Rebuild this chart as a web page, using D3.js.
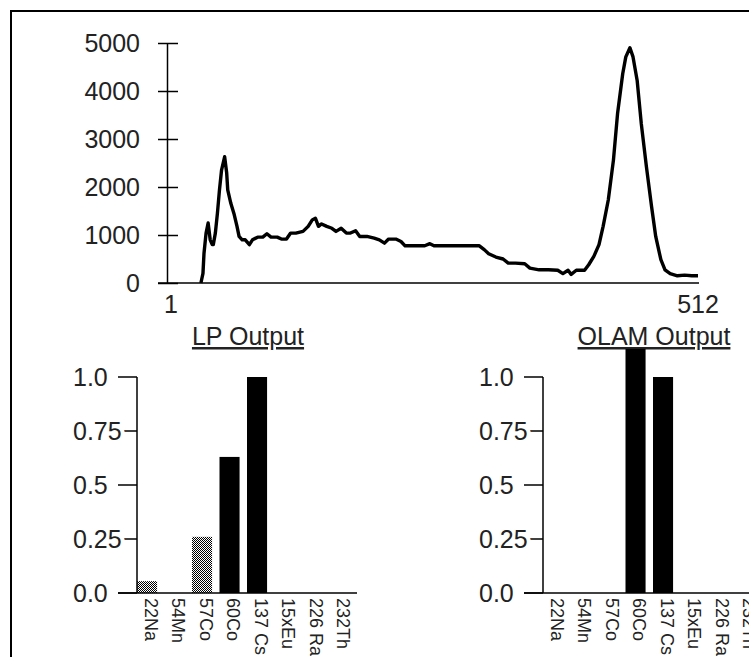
<!DOCTYPE html>
<html>
<head>
<meta charset="utf-8">
<script src="https://cdn.jsdelivr.net/npm/d3@7"></script>
<style>
  body { margin: 0; background: #fff; }
  text { font-family: "Liberation Sans", Arial, sans-serif; fill: #222; }
</style>
</head>
<body>
<script>
// spectrum (channel, counts)
const channels = [30, 32, 33, 35, 37, 39, 41, 42, 44, 46, 48, 50, 53, 55, 56, 59, 62, 65, 67, 70,
  73, 77, 80, 85, 90, 94, 98, 104, 108, 113, 117, 122, 129, 134, 138, 141, 144, 147, 152, 157,
  161, 166, 171, 175, 180, 184, 191, 198, 203, 208, 212, 219, 224, 228, 238, 247, 252, 256, 270, 284,
  300, 305, 309, 316, 323, 328, 335, 344, 349, 358, 367, 376, 381, 386, 389, 394, 402, 406, 411, 416,
  420, 425, 430, 434, 439, 442, 446, 449, 453, 457, 462, 467, 471, 476, 480, 485, 492, 499, 506, 512];
const counts = [0, 200, 620, 1040, 1250, 900, 800, 800, 1040, 1450, 1940, 2350, 2630, 2290, 1940, 1660, 1450, 1180, 970, 900,
  900, 800, 900, 955, 955, 1025, 955, 955, 915, 915, 1040, 1040, 1075, 1180, 1315, 1350, 1180, 1230, 1180, 1140,
  1075, 1140, 1040, 1040, 1090, 970, 970, 935, 900, 830, 915, 915, 865, 775, 775, 775, 820, 775, 775, 775,
  775, 690, 610, 540, 500, 415, 415, 400, 310, 275, 275, 265, 195, 265, 180, 265, 265, 380, 555, 800,
  1180, 1730, 2560, 3530, 4360, 4710, 4900, 4710, 4220, 3320, 2420, 1590, 970, 485, 275, 195, 150, 165, 150, 150];
const countTicks = [0, 1000, 2000, 3000, 4000, 5000];
const channelTicks = [1, 512];

// network outputs
const isotopes = ['22Na', '54Mn', '57Co', '60Co', '137 Cs', '15xEu', '226 Ra', '232Th'];
const lpOutput = [0.055, 0, 0.26, 0.63, 1.0, 0, 0, 0];
const olamOutput = [0, 0, 0, 1.13, 1.0, 0, 0, 0];
const outputTicks = [0, 0.25, 0.5, 0.75, 1.0];
const outputTickLabels = ['0.0', '0.25', '0.5', '0.75', '1.0'];

const W = 749, H = 657;

const svg = d3.select('body').append('svg')
    .attr('width', W)
    .attr('height', H);

const defs = svg.append('defs');
const pat = defs.append('pattern')
    .attr('id', 'dots')
    .attr('width', 2)
    .attr('height', 2)
    .attr('patternUnits', 'userSpaceOnUse');
pat.append('rect').attr('width', 2).attr('height', 2).attr('fill', '#fff');
pat.append('rect').attr('width', 1).attr('height', 1).attr('fill', '#000');
pat.append('rect').attr('x', 1).attr('y', 1).attr('width', 1).attr('height', 1).attr('fill', '#000');

// frame
svg.append('rect')
    .attr('x', 11)
    .attr('y', 11)
    .attr('width', 800)
    .attr('height', 700)
    .attr('fill', 'none')
    .attr('stroke', '#000')
    .attr('stroke-width', 2);

// ---- spectrum ----
const x = d3.scaleLinear().domain([1, 512]).range([171, 698]);
const y = d3.scaleLinear().domain([0, 5000]).range([283, 43]);
const axisX = 167;

const yAxis = svg.append('g')
    .attr('transform', `translate(${axisX},0)`)
    .call(d3.axisLeft(y)
        .tickValues(countTicks)
        .tickFormat(d3.format('d'))
        .tickSizeOuter(0)
        .tickSizeInner(9)
        .tickPadding(18));
yAxis.select('.domain').attr('stroke-width', 1.5);
yAxis.selectAll('.tick line').attr('x2', 11).attr('x1', -9).attr('stroke-width', 1.5);
yAxis.selectAll('.tick text')
    .style('font-size', '25px')
    .style('font-family', '"Liberation Sans", Arial, sans-serif')
    .attr('fill', '#222');

svg.append('line')
    .attr('x1', 158).attr('x2', 699)
    .attr('y1', y(0)).attr('y2', y(0))
    .attr('stroke', '#000')
    .attr('stroke-width', 1.5);

svg.selectAll('.chan-label')
    .data(channelTicks)
  .enter().append('text')
    .attr('class', 'chan-label')
    .attr('x', d => x(d))
    .attr('y', 313)
    .attr('text-anchor', 'middle')
    .style('font-size', '25px')
    .text(d => d);

const spectrum = channels.map((c, i) => [c, counts[i]]);
svg.append('path')
    .datum(spectrum)
    .attr('fill', 'none')
    .attr('stroke', '#000')
    .attr('stroke-width', 3.4)
    .attr('stroke-linejoin', 'round')
    .attr('d', d3.line().x(d => x(d[0])).y(d => y(d[1])));

// ---- output bar charts ----
const yb = d3.scaleLinear().domain([0, 1]).range([593, 377]);

function drawOutput(values, left, title) {
    const xb = d3.scaleBand()
        .domain(isotopes)
        .range([left, left + 220])
        .paddingInner(0.27)
        .paddingOuter(0.135)
        .align(0);

    const g = svg.append('g');

    // title
    g.append('text')
        .attr('x', left + 111)
        .attr('y', 345)
        .attr('text-anchor', 'middle')
        .style('font-size', '25px')
        .style('text-decoration', 'underline')
        .text(title);

    // bars
    g.selectAll('.bar')
        .data(values.map((v, i) => ({ name: isotopes[i], v: v })).filter(d => d.v > 0))
      .enter().append('rect')
        .attr('class', 'bar')
        .attr('x', d => xb(d.name))
        .attr('width', xb.bandwidth())
        .attr('y', d => yb(d.v))
        .attr('height', d => yb(0) - yb(d.v))
        .attr('fill', d => d.v < 0.5 ? 'url(#dots)' : '#000');

    // axes
    g.selectAll('.tick')
        .data(outputTicks)
      .enter().append('line')
        .attr('x1', left - 19).attr('x2', left)
        .attr('y1', d => yb(d)).attr('y2', d => yb(d))
        .attr('stroke', '#000')
        .attr('stroke-width', 1.5);

    g.append('line')
        .attr('x1', left).attr('x2', left)
        .attr('y1', yb(1)).attr('y2', yb(0))
        .attr('stroke', '#000')
        .attr('stroke-width', 1.5);

    g.append('line')
        .attr('x1', left - 19).attr('x2', left + 220)
        .attr('y1', yb(0)).attr('y2', yb(0))
        .attr('stroke', '#000')
        .attr('stroke-width', 1.5);

    g.selectAll('.ylab')
        .data(outputTicks)
      .enter().append('text')
        .attr('class', 'ylab')
        .attr('x', left - 64)
        .attr('y', d => yb(d))
        .attr('dy', '0.36em')
        .style('font-size', '25px')
        .attr('stroke', '#fff')
        .attr('stroke-width', 8)
        .attr('paint-order', 'stroke')
        .text((d, i) => outputTickLabels[i]);

    g.selectAll('.xlab')
        .data(isotopes)
      .enter().append('text')
        .attr('class', 'xlab')
        .attr('transform', d => `translate(${xb(d) + xb.bandwidth() / 2 + 4},598) rotate(90)`)
        .attr('dy', '0.36em')
        .style('font-size', '18px')
        .text(d => d);
}

drawOutput(lpOutput, 137, 'LP Output');
drawOutput(olamOutput, 543, 'OLAM Output');
</script>
</body>
</html>
